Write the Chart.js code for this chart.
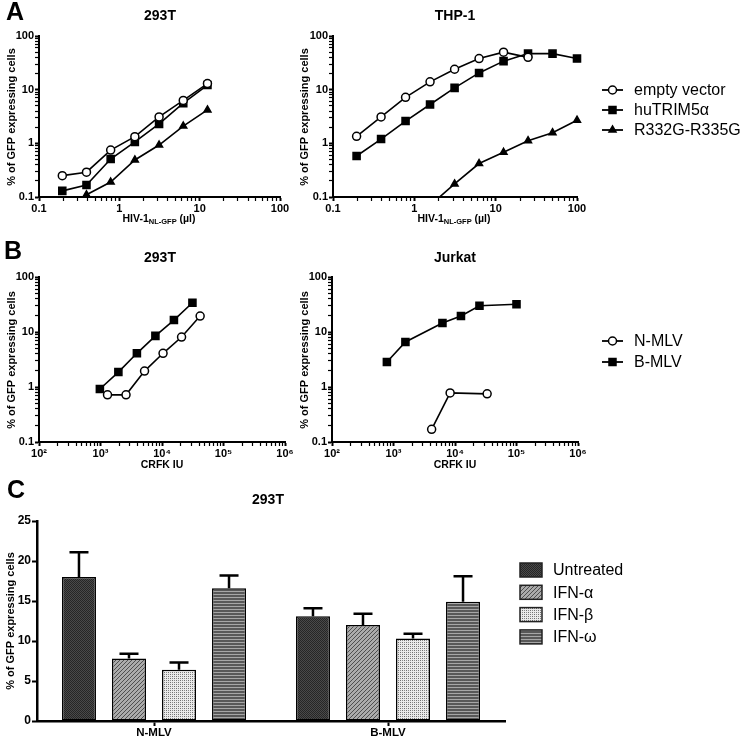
<!DOCTYPE html>
<html>
<head>
<meta charset="utf-8">
<script src="https://cdn.jsdelivr.net/npm/chart.js@4.4.1/dist/chart.umd.min.js"></script>
<style>
  html, body { margin: 0; padding: 0; background: #fff; }
  #wrap { position: relative; width: 745px; height: 737px; overflow: hidden; }
  #wrap canvas { position: absolute; left: 0; top: 0; }
</style>
</head>
<body>
<div id="wrap">
  <canvas id="aLeft" width="745" height="737"></canvas>
  <canvas id="aRight" width="745" height="737"></canvas>
  <canvas id="bLeft" width="745" height="737"></canvas>
  <canvas id="bRight" width="745" height="737"></canvas>
  <canvas id="cBars" width="745" height="737"></canvas>
</div>
<script>
// ---- panel A: HIV-1 dose (ul) vs % GFP+ ----
const hivDose = [0.195, 0.39, 0.78, 1.56, 3.125, 6.25, 12.5, 25, 50, 100];
const a293Empty = [0.25, 0.29, 0.75, 1.33, 3.1, 6.3, 13];
const a293Trim  = [0.13, 0.167, 0.51, 1.06, 2.3, 5.6, 12.2];
const a293Mut   = [null, 0.11, 0.19, 0.49, 0.93, 2.1, 4.2];
const thpEmpty  = [1.35, 3.1, 7.2, 14, 24, 38, 50, 40];
const thpTrim   = [0.58, 1.2, 2.6, 5.3, 10.8, 20.5, 34, 47, 47, 38];
const thpMut    = [null, null, null, 0.07, 0.175, 0.42, 0.68, 1.12, 1.58, 2.7];
const legendA = ['empty vector', 'huTRIM5\u03b1', 'R332G-R335G'];

// ---- panel B: CRFK IU vs % GFP+ ----
const b293BDose = [977, 1953, 3906, 7813, 15625, 31250];
const b293BVal  = [0.92, 1.87, 4.1, 8.5, 16.5, 34];
const b293NDose = [1300, 2600, 5200, 10400, 20800, 41700];
const b293NVal  = [0.72, 0.72, 1.95, 4.1, 8.1, 19.5];
const jurBDose  = [781, 1563, 6250, 12500, 25000, 100000];
const jurBVal   = [2.85, 6.6, 14.6, 19.6, 30, 32];
const jurNDose  = [4170, 8330, 33300];
const jurNVal   = [0.17, 0.78, 0.75];
const legendB = ['N-MLV', 'B-MLV'];

// ---- panel C: bars ----
const virusCats  = ['N-MLV', 'B-MLV'];
const treatments = ['Untreated', 'IFN-\u03b1', 'IFN-\u03b2', 'IFN-\u03c9'];
const cUntreated = [18.0, 13.1];
const cIfnA      = [7.8, 12.0];
const cIfnB      = [6.4, 10.3];
const cIfnW      = [16.6, 14.9];
const errUntreated = [3.1, 1.0];
const errIfnA      = [0.6, 1.4];
const errIfnB      = [0.9, 0.6];
const errIfnW      = [1.6, 3.2];

const SUP = { 2: '\u00b2', 3: '\u00b3', 4: '\u2074', 5: '\u2075', 6: '\u2076' };
const FAM = '"Liberation Sans", Arial, Helvetica, sans-serif';
const W = 745, H = 737;

function isDecade(v) {
  const l = Math.log10(v);
  return Math.abs(l - Math.round(l)) < 1e-9;
}
function logTicks(lo, hi) {
  const t = [];
  for (let e = lo; e < hi; e++)
    for (let m = 1; m < 10; m++) t.push({ value: +(m * Math.pow(10, e)).toPrecision(6) });
  t.push({ value: Math.pow(10, hi) });
  return t;
}
function logAxis(lo, hi, fmt, fitKey, fitVal) {
  return {
    type: 'logarithmic',
    min: Math.pow(10, lo), max: Math.pow(10, hi),
    afterBuildTicks: s => { s.ticks = logTicks(lo, hi); },
    afterFit: s => { s[fitKey] = fitVal; },
    ticks: {
      autoSkip: false, maxRotation: 0, padding: 1, color: '#000',
      font: { family: FAM, size: 11, weight: 'bold' },
      callback: v => isDecade(v) ? fmt(v) : ''
    },
    grid: {
      drawOnChartArea: false, drawTicks: true, tickLength: 4, tickColor: '#000',
      tickWidth: c => (c.tick && isDecade(c.tick.value)) ? 2 : 1.2
    },
    border: { color: '#000', width: 2 }
  };
}

const markers = {
  circle: { pointStyle: 'circle', pointRadius: 4, pointBackgroundColor: '#fff' },
  square: { pointStyle: 'rect', pointRadius: 5, pointBackgroundColor: '#000' },
  tri:    { pointStyle: 'triangle', pointRadius: 4, pointBackgroundColor: '#000' }
};
function lineSet(label, xs, ys, mk) {
  return Object.assign({
    label,
    data: xs.map((x, i) => ({ x, y: ys[i] })).filter(p => p.y != null),
    borderColor: '#000', borderWidth: 1.6, tension: 0,
    pointBorderColor: '#000', pointBorderWidth: 1.5,
    clip: { left: 8, right: 8, top: 8, bottom: 0 }
  }, markers[mk]);
}

function txt(ctx, s, x, y, size, bold, align) {
  ctx.font = (bold ? 'bold ' : '') + size + 'px ' + FAM;
  ctx.textAlign = align || 'center';
  ctx.textBaseline = 'middle';
  ctx.fillStyle = '#000';
  ctx.fillText(s, x, y);
}
function vtxt(ctx, s, x, y, size) {
  ctx.save();
  ctx.translate(x, y);
  ctx.rotate(-Math.PI / 2);
  txt(ctx, s, 0, 0, size, true);
  ctx.restore();
}
function hivTitle(ctx, cx, cy) {
  const parts = [['HIV-1', 10.5, 0], ['NL-GFP', 7.5, 3], [' (\u00b5l)', 10.5, 0]];
  let total = 0;
  parts.forEach(p => { ctx.font = 'bold ' + p[1] + 'px ' + FAM; p.w = ctx.measureText(p[0]).width; total += p.w; });
  let x = cx - total / 2;
  parts.forEach(p => { txt(ctx, p[0], x, cy + p[2], p[1], true, 'left'); x += p.w; });
}
function drawMarker(ctx, kind, x, y) {
  ctx.lineWidth = 1.5; ctx.strokeStyle = '#000';
  ctx.beginPath();
  if (kind === 'circle') { ctx.arc(x, y, 4, 0, Math.PI * 2); ctx.fillStyle = '#fff'; ctx.fill(); ctx.stroke(); return; }
  if (kind === 'square') { ctx.rect(x - 3.5, y - 3.5, 7, 7); }
  if (kind === 'tri') { ctx.moveTo(x, y - 4); ctx.lineTo(x + 3.5, y + 2); ctx.lineTo(x - 3.5, y + 2); ctx.closePath(); }
  ctx.fillStyle = '#000'; ctx.fill(); ctx.stroke();
}
function lineLegend(ctx, names, kinds, x, y0, dy) {
  names.forEach((n, i) => {
    const y = y0 + i * dy;
    ctx.beginPath(); ctx.moveTo(x, y); ctx.lineTo(x + 21, y);
    ctx.lineWidth = 1.8; ctx.strokeStyle = '#000'; ctx.stroke();
    drawMarker(ctx, kinds[i], x + 10.5, y);
    txt(ctx, n, x + 32, y + 1, 16, false, 'left');
  });
}
function decor(fn) {
  return { id: 'decor', afterDraw(chart) { const c = chart.ctx; c.save(); fn(c, chart); c.restore(); } };
}

function logChart(id, area, xr, xfmt, datasets, extra) {
  return new Chart(document.getElementById(id), {
    type: 'line',
    data: { datasets },
    options: {
      responsive: false, animation: false,
      layout: { padding: { left: 0, top: area.top, right: W - area.right, bottom: 0 } },
      plugins: { legend: { display: false }, tooltip: { enabled: false } },
      scales: {
        x: logAxis(xr[0], xr[1], xfmt, 'height', H - area.bottom),
        y: logAxis(-1, 2, v => String(+v.toPrecision(3)), 'width', area.left)
      }
    },
    plugins: [decor(extra)]
  });
}

const plainFmt = v => String(+v.toPrecision(3));
const powFmt = v => '10' + SUP[Math.round(Math.log10(v))];

// A left
logChart('aLeft', { left: 39, top: 36, right: 280, bottom: 197 }, [-1, 2], plainFmt, [
  lineSet(legendA[0], hivDose, a293Empty, 'circle'),
  lineSet(legendA[1], hivDose, a293Trim, 'square'),
  lineSet(legendA[2], hivDose, a293Mut, 'tri')
], (ctx) => {
  txt(ctx, 'A', 15, 13, 25, true);
  txt(ctx, '293T', 160, 16, 14, true);
  vtxt(ctx, '% of GFP expressing cells', 12, 117, 11);
  hivTitle(ctx, 159, 219);
});

// A right
logChart('aRight', { left: 333, top: 36, right: 577, bottom: 197 }, [-1, 2], plainFmt, [
  lineSet(legendA[0], hivDose, thpEmpty, 'circle'),
  lineSet(legendA[1], hivDose, thpTrim, 'square'),
  lineSet(legendA[2], hivDose, thpMut, 'tri')
], (ctx) => {
  txt(ctx, 'THP-1', 455, 16, 14, true);
  vtxt(ctx, '% of GFP expressing cells', 305, 117, 11);
  hivTitle(ctx, 454, 219);
  lineLegend(ctx, legendA, ['circle', 'square', 'tri'], 602, 90, 20);
});

// B left
logChart('bLeft', { left: 39, top: 277, right: 285, bottom: 442 }, [2, 6], powFmt, [
  lineSet(legendB[0], b293NDose, b293NVal, 'circle'),
  lineSet(legendB[1], b293BDose, b293BVal, 'square')
], (ctx) => {
  txt(ctx, 'B', 13, 252, 25, true);
  txt(ctx, '293T', 160, 258, 14, true);
  vtxt(ctx, '% of GFP expressing cells', 12, 360, 11);
  txt(ctx, 'CRFK IU', 162, 465, 10.5, true);
});

// B right
logChart('bRight', { left: 332, top: 277, right: 578, bottom: 442 }, [2, 6], powFmt, [
  lineSet(legendB[0], jurNDose, jurNVal, 'circle'),
  lineSet(legendB[1], jurBDose, jurBVal, 'square')
], (ctx) => {
  txt(ctx, 'Jurkat', 455, 258, 14, true);
  vtxt(ctx, '% of GFP expressing cells', 305, 360, 11);
  txt(ctx, 'CRFK IU', 455, 465, 10.5, true);
  lineLegend(ctx, legendB, ['circle', 'square'], 602, 341, 21);
});

// ---- panel C patterns ----
function pattern(size, paint) {
  const c = document.createElement('canvas');
  c.width = c.height = size;
  const g = c.getContext('2d');
  paint(g, size);
  return g.createPattern(c, 'repeat');
}
function px(g, x, y, col) { g.fillStyle = col; g.fillRect(x, y, 1, 1); }
const patUntreated = pattern(2, g => {
  g.fillStyle = '#4a4a4a'; g.fillRect(0, 0, 2, 2);
  px(g, 0, 0, '#262626'); px(g, 1, 1, '#262626');
});
const patIfnA = pattern(4, g => {
  g.fillStyle = '#ababab'; g.fillRect(0, 0, 4, 4);
  for (let i = 0; i < 4; i++) px(g, i, 3 - i, '#4f4f4f');
});
const patIfnB = pattern(4, g => {
  g.fillStyle = '#eaeaea'; g.fillRect(0, 0, 4, 4);
  px(g, 0, 0, '#6e6e6e'); px(g, 2, 2, '#6e6e6e'); px(g, 0, 2, '#8a8a8a'); px(g, 2, 0, '#8a8a8a');
});
const patIfnW = pattern(3, g => {
  g.fillStyle = '#585858'; g.fillRect(0, 0, 3, 3);
  g.fillStyle = '#a6a6a6'; g.fillRect(0, 0, 3, 1);
});
const cPatterns = [patUntreated, patIfnA, patIfnB, patIfnW];
const cValues = [cUntreated, cIfnA, cIfnB, cIfnW];
const cErrs = [errUntreated, errIfnA, errIfnB, errIfnW];

const cArea = { left: 37, top: 521, right: 505, bottom: 721 };
const errorBars = {
  id: 'errorBars',
  afterDatasetsDraw(chart) {
    const ctx = chart.ctx, ys = chart.scales.y;
    ctx.save();
    ctx.strokeStyle = '#000'; ctx.lineWidth = 2.5;
    chart.data.datasets.forEach((ds, i) => {
      chart.getDatasetMeta(i).data.forEach((bar, j) => {
        const top = ys.getPixelForValue(cValues[i][j] + cErrs[i][j]);
        ctx.beginPath();
        ctx.moveTo(bar.x, bar.y); ctx.lineTo(bar.x, top);
        ctx.moveTo(bar.x - 9.5, top); ctx.lineTo(bar.x + 9.5, top);
        ctx.stroke();
      });
    });
    ctx.restore();
  }
};

new Chart(document.getElementById('cBars'), {
  type: 'bar',
  data: {
    labels: virusCats,
    datasets: treatments.map((t, i) => ({
      label: t, data: cValues[i],
      backgroundColor: cPatterns[i], borderColor: '#000', borderWidth: 1.5, borderSkipped: false,
      barPercentage: 0.68, categoryPercentage: 0.855
    }))
  },
  options: {
    responsive: false, animation: false,
    layout: { padding: { left: 0, top: cArea.top, right: W - cArea.right, bottom: 0 } },
    plugins: { legend: { display: false }, tooltip: { enabled: false } },
    scales: {
      x: {
        type: 'category', offset: true,
        afterFit: s => { s.height = H - cArea.bottom; },
        grid: { offset: false, drawOnChartArea: false, drawTicks: true, tickLength: 5, tickColor: '#000', tickWidth: 2 },
        border: { color: '#000', width: 2.5 },
        ticks: { color: '#000', padding: 0, font: { family: FAM, size: 11.5, weight: 'bold' } }
      },
      y: {
        min: 0, max: 25,
        afterFit: s => { s.width = cArea.left; },
        grid: { drawOnChartArea: false, drawTicks: true, tickLength: 5, tickColor: '#000', tickWidth: 2 },
        border: { color: '#000', width: 2.5 },
        ticks: { stepSize: 5, color: '#000', padding: 1, font: { family: FAM, size: 12, weight: 'bold' } }
      }
    }
  },
  plugins: [errorBars, decor((ctx) => {
    txt(ctx, 'C', 16, 491, 25, true);
    txt(ctx, '293T', 268, 500, 14, true);
    vtxt(ctx, '% of GFP expressing cells', 11, 621, 11);
    treatments.forEach((t, i) => {
      const y = 570 + i * 22.3;
      ctx.fillStyle = cPatterns[i];
      ctx.fillRect(520, y - 7, 22, 14);
      ctx.lineWidth = 1.5; ctx.strokeStyle = '#222';
      ctx.strokeRect(520, y - 7, 22, 14);
      txt(ctx, t, 553, y + 1, 16, false, 'left');
    });
  })]
});
</script>
</body>
</html>
